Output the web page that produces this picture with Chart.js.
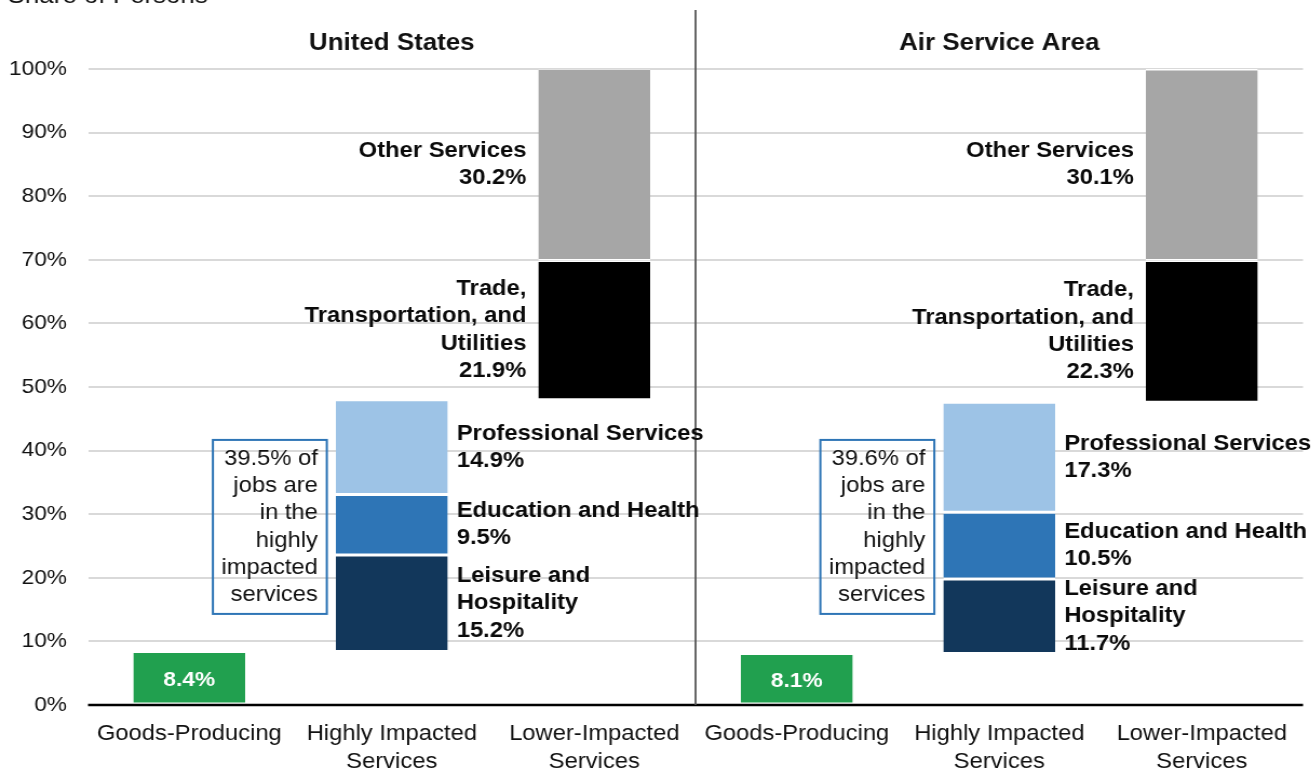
<!DOCTYPE html>
<html>
<head>
<meta charset="utf-8">
<script src="https://cdn.jsdelivr.net/npm/chart.js@4.4.0/dist/chart.umd.min.js"></script>
<style>
    html, body { margin: 0; padding: 0; background: #fff; overflow: hidden; }
    #wrap { width: 1218px; height: 771px; transform: scaleX(1.08); transform-origin: 0 0; }
</style>
</head>
<body>
<div id="wrap"><canvas id="share-chart" width="1218" height="771"></canvas></div>
<script>
// DATA
const categories = [
    ['Goods-Producing'], ['Highly Impacted', 'Services'], ['Lower-Impacted', 'Services'],
    ['Goods-Producing'], ['Highly Impacted', 'Services'], ['Lower-Impacted', 'Services']
];
const panelTitles = ['United States', 'Air Service Area'];
const segments = ['Goods-Producing', 'Leisure and Hospitality', 'Education and Health',
    'Professional Services', 'Trade, Transportation, and Utilities', 'Other Services'];
// which column (within a panel) each segment sits in
const segmentGroup = [0, 1, 1, 1, 2, 2];
const usShares = [8.4, 15.2, 9.5, 14.9, 21.9, 30.2];
const areaShares = [8.1, 11.7, 10.5, 17.3, 22.3, 30.1];
const highlyImpactedShare = [39.5, 39.6];
const segmentColors = ['#21a04f', '#12375b', '#2e75b6', '#9dc3e6', '#000000', '#a6a6a6'];
const segmentLabelLines = [
    [],
    ['Leisure and', 'Hospitality'],
    ['Education and Health'],
    ['Professional Services'],
    ['Trade,', 'Transportation, and', 'Utilities'],
    ['Other Services']
];

const panelShares = [usShares, areaShares];
const FONT = '"Liberation Sans", Arial, sans-serif';
const LINE = 27.3;

// start/end of every segment, stacked from zero within a panel
function segmentRange(shares, s) {
    let start = 0;
    for (let i = 0; i < s; i++) start += shares[i];
    return [start, start + shares[s]];
}

function buildDatasets() {
    return segments.map((name, s) => {
        const data = new Array(categories.length).fill(null);
        panelShares.forEach((shares, p) => {
            data[p * 3 + segmentGroup[s]] = segmentRange(shares, s);
        });
        return {
            label: name,
            data: data,
            backgroundColor: segmentColors[s],
            borderColor: '#ffffff',
            borderWidth: { top: 1.5, bottom: 1.5, left: 0, right: 0 },
            borderSkipped: false,
            grouped: false,
            barPercentage: 0.553,
            categoryPercentage: 1
        };
    });
}

function drawLines(ctx, lines, x, yMid, align) {
    ctx.textAlign = align;
    ctx.textBaseline = 'middle';
    const top = yMid - (lines.length - 1) * LINE / 2;
    lines.forEach((t, i) => ctx.fillText(t, x, top + i * LINE));
}

// labels, titles, divider and call-out boxes
const annotations = {
    id: 'annotations',
    afterDatasetsDraw(chart) {
        const ctx = chart.ctx;
        const area = chart.chartArea;
        const x = chart.scales.x;
        const y = chart.scales.y;
        const zeroY = y.getPixelForValue(0);
        ctx.save();

        // zero line
        ctx.strokeStyle = '#000';
        ctx.lineWidth = 2.5;
        ctx.beginPath();
        ctx.moveTo(area.left, zeroY);
        ctx.lineTo(area.right, zeroY);
        ctx.stroke();

        // divider between the two panels
        const midX = (x.getPixelForValue(2) + x.getPixelForValue(3)) / 2;
        ctx.strokeStyle = '#555';
        ctx.lineWidth = 1.8;
        ctx.beginPath();
        ctx.moveTo(midX, 10);
        ctx.lineTo(midX, zeroY);
        ctx.stroke();

        // axis title (top left)
        ctx.fillStyle = '#111';
        ctx.font = '24px ' + FONT;
        ctx.textAlign = 'left';
        ctx.textBaseline = 'alphabetic';
        ctx.fillText('Share of Persons', 7, 3);

        // panel titles
        ctx.font = 'bold 24px ' + FONT;
        ctx.textAlign = 'center';
        ctx.textBaseline = 'middle';
        panelTitles.forEach((t, p) => ctx.fillText(t, x.getPixelForValue(p * 3 + 1), 43));

        panelShares.forEach((shares, p) => {
            segments.forEach((name, s) => {
                const bar = chart.getDatasetMeta(s).data[p * 3 + segmentGroup[s]];
                const range = segmentRange(shares, s);
                const midY = y.getPixelForValue((range[0] + range[1]) / 2);
                const left = bar.x - bar.width / 2;
                const right = bar.x + bar.width / 2;
                const value = shares[s].toFixed(1) + '%';
                if (segmentGroup[s] === 0) {
                    ctx.fillStyle = '#ffffff';
                    ctx.font = 'bold 21px ' + FONT;
                    drawLines(ctx, [value], bar.x, midY + 2, 'center');
                } else {
                    ctx.fillStyle = '#0a0a0a';
                    ctx.font = 'bold 22px ' + FONT;
                    const lines = segmentLabelLines[s].concat([value]);
                    if (segmentGroup[s] === 1) drawLines(ctx, lines, right + 8.3, midY, 'left');
                    else drawLines(ctx, lines, left - 11, midY, 'right');
                }
            });

            // call-out box left of the highly impacted column
            const hi = chart.getDatasetMeta(1).data[p * 3 + 1];
            const boxRight = hi.x - hi.width / 2 - 8.3;
            const boxW = 105.5, boxH = 174;
            const cy = y.getPixelForValue(28);
            ctx.strokeStyle = '#2e75b6';
            ctx.lineWidth = 2;
            ctx.strokeRect(boxRight - boxW, cy - boxH / 2, boxW, boxH);
            ctx.fillStyle = '#111';
            ctx.font = '22px ' + FONT;
            drawLines(ctx, [highlyImpactedShare[p].toFixed(1) + '% of', 'jobs are', 'in the',
                'highly', 'impacted', 'services'], boxRight - 8.3, cy, 'right');
        });
        ctx.restore();
    }
};

var shareChart;
function loadShareChart() {
    var canvas = document.getElementById('share-chart');
    var context = canvas.getContext('2d');
    shareChart = new Chart(context, {
        type: 'bar',
        data: {
            labels: categories,
            datasets: buildDatasets()
        },
        options: {
            responsive: false,
            animation: false,
            layout: { padding: { top: 69, right: 11.5, bottom: 0, left: 0 } },
            plugins: {
                legend: { display: false },
                tooltip: { enabled: false }
            },
            scales: {
                x: {
                    grid: { display: false },
                    border: { display: false },
                    ticks: {
                        color: '#111',
                        font: { family: FONT, size: 22, lineHeight: 1.27 },
                        padding: 7,
                        maxRotation: 0,
                        autoSkip: false
                    },
                    afterFit: function (scale) { scale.height = 66; }
                },
                y: {
                    min: 0,
                    max: 100,
                    ticks: {
                        stepSize: 10,
                        callback: function (v) { return v + '%'; },
                        color: '#111',
                        font: { family: FONT, size: 21 },
                        padding: 19.5
                    },
                    grid: { color: '#d9d9d9', lineWidth: 2, drawTicks: false },
                    border: { display: false },
                    afterFit: function (scale) { scale.width = 81.5; }
                }
            }
        },
        plugins: [annotations]
    });
}

loadShareChart();
</script>
</body>
</html>
